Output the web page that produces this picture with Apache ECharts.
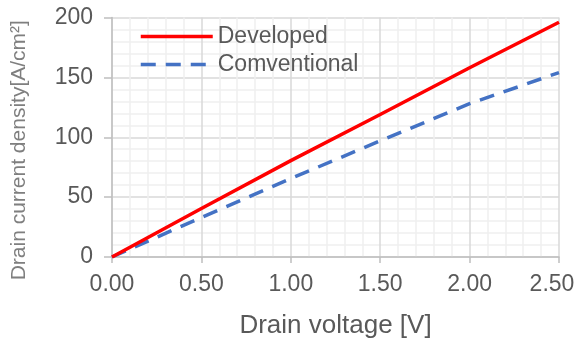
<!DOCTYPE html>
<html>
<head>
<meta charset="utf-8">
<script src="https://cdn.jsdelivr.net/npm/echarts@6/dist/echarts.min.js"></script>
<style>
html,body{margin:0;padding:0;background:#fff;}
#c{width:579px;height:344px;}
</style>
</head>
<body>
<div id="c"></div>
<script>
const voltage = [0, 0.5, 1.0, 1.5, 2.0, 2.5];
const developed = [0, 40.5, 80.5, 119, 158, 196];
const conventional = [0, 33, 65.5, 97, 128, 154];
const seriesNames = ['Developed', 'Comventional'];
const xTitle = 'Drain voltage [V]';
const yTitle = 'Drain current density[A/cm²]';

const chart = echarts.init(document.getElementById('c'), null, {renderer: 'canvas'});
const font = 'Liberation Sans, Arial, sans-serif';
chart.setOption({
  animation: false,
  backgroundColor: '#ffffff',
  grid: {left: 112, right: 20, top: 17.5, bottom: 84.5, containLabel: false},
  legend: {
    show: true,
    orient: 'vertical',
    left: 134,
    top: 20,
    itemWidth: 72,
    itemHeight: 14,
    itemGap: 5,
    itemStyle: {opacity: 0},
    lineStyle: {width: 3.5},
    textStyle: {fontFamily: font, fontSize: 23, color: '#595959'},
    data: seriesNames
  },
  xAxis: {
    type: 'value',
    min: 0, max: 2.5, interval: 0.5,
    name: xTitle,
    nameLocation: 'middle',
    nameGap: 56,
    nameTextStyle: {fontFamily: font, fontSize: 26, color: '#595959'},
    axisLine: {show: true, lineStyle: {color: '#bfbfbf', width: 1.5}},
    axisTick: {show: true, length: 6, lineStyle: {color: '#bfbfbf', width: 1.5}},
    axisLabel: {
      fontFamily: font, fontSize: 23, color: '#595959', margin: 16,
      formatter: function (v) {
        const s = v.toFixed(2);
        return v === 2.5 ? '{last|' + s + '}' : s;
      },
      rich: {last: {fontFamily: font, fontSize: 23, color: '#595959', padding: [0, 14, 0, 0]}}
    },
    splitLine: {show: true, lineStyle: {color: '#d9d9d9', width: 1.5}},
    minorTick: {show: false, splitNumber: 5},
    minorSplitLine: {show: true, lineStyle: {color: '#efefef', width: 1.5}}
  },
  yAxis: {
    type: 'value',
    min: 0, max: 200, interval: 50,
    name: yTitle,
    nameLocation: 'middle',
    nameRotate: 90,
    nameGap: 82,
    nameTextStyle: {fontFamily: font, fontSize: 21, color: '#7f7f7f', padding: [0, 26, 0, 0]},
    axisLine: {show: true, lineStyle: {color: '#bfbfbf', width: 1.5}},
    axisTick: {show: true, length: 8, lineStyle: {color: '#bfbfbf', width: 1.5}},
    axisLabel: {fontFamily: font, fontSize: 23, color: '#595959', margin: 19},
    splitLine: {show: true, lineStyle: {color: '#d9d9d9', width: 1.5}},
    minorTick: {show: false, splitNumber: 5},
    minorSplitLine: {show: true, lineStyle: {color: '#efefef', width: 1.5}}
  },
  series: [
    {
      name: seriesNames[0],
      type: 'line',
      data: voltage.map((x, i) => [x, developed[i]]),
      showSymbol: false,
      symbol: 'none',
      lineStyle: {color: '#ff0000', width: 3.5},
      itemStyle: {color: '#ff0000'},
      z: 3
    },
    {
      name: seriesNames[1],
      type: 'line',
      data: voltage.map((x, i) => [x, conventional[i]]),
      showSymbol: false,
      symbol: 'none',
      lineStyle: {color: '#4472c4', width: 3.5, type: [15, 10]},
      itemStyle: {color: '#4472c4'},
      z: 2
    }
  ]
});
</script>
</body>
</html>
